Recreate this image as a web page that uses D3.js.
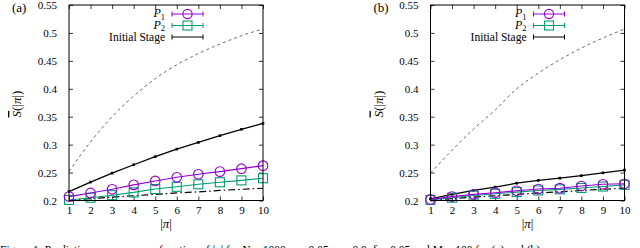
<!DOCTYPE html>
<meta charset="utf-8">
<style type="text/css">
body { margin: 0; background: #fff; }
svg text { font-family: "Liberation Serif", "DejaVu Serif", serif; fill: #000; }
.frame { fill: none; stroke: #000; stroke-width: 1; }
.tick line { stroke: #000; stroke-width: 0.8; }
.tick text { font-size: 11px; }
.domain { display: none; }
.upper { fill: none; stroke: #444; stroke-width: 0.8; stroke-dasharray: 3,3; }
.base { fill: none; stroke: #000; stroke-width: 1.2; stroke-dasharray: 7,3,1.5,3; }
.init { fill: none; stroke: #000; stroke-width: 1.3; }
.p1 { fill: none; stroke: #9400d3; stroke-width: 1.1; }
.p2 { fill: none; stroke: #009e73; stroke-width: 1.1; }
</style>
<svg width="640" height="248"></svg>
<script src="https://cdn.jsdelivr.net/npm/d3@7"></script>
<script>

// |pi| values on the x axis
var sizes = [1, 2, 3, 4, 5, 6, 7, 8, 9, 10];
var yTicks = [0.2, 0.25, 0.3, 0.35, 0.4, 0.45, 0.5, 0.55];

// panel (a)
var p1A    = [0.207, 0.2135, 0.220, 0.228, 0.235, 0.2415, 0.247, 0.2517, 0.257, 0.2624];
var p2A    = [0.201, 0.205, 0.2095, 0.2145, 0.2205, 0.2245, 0.229, 0.2326, 0.236, 0.2398];
var initA  = [0.216, 0.233, 0.249, 0.264, 0.2785, 0.292, 0.304, 0.316, 0.3275, 0.338];
var upperA = [0.252, 0.305, 0.350, 0.387, 0.418, 0.443, 0.463, 0.480, 0.495, 0.507];
var baseA  = [0.200, 0.2035, 0.206, 0.2085, 0.211, 0.2135, 0.2155, 0.218, 0.220, 0.222];

// panel (b)
var p1B    = [0.202, 0.207, 0.211, 0.214, 0.2175, 0.2205, 0.222, 0.226, 0.229, 0.230];
var p2B    = [0.201, 0.205, 0.209, 0.212, 0.215, 0.218, 0.220, 0.2225, 0.225, 0.228];
var initB  = [0.203, 0.211, 0.218, 0.224, 0.231, 0.236, 0.240, 0.2445, 0.2495, 0.2545];
var upperB = [0.249, 0.290, 0.328, 0.362, 0.400, 0.428, 0.452, 0.473, 0.491, 0.507];
var baseB  = [0.200, 0.2035, 0.206, 0.2085, 0.211, 0.2135, 0.2155, 0.218, 0.220, 0.222];

var svg = d3.select("svg");

function drawPanel(left, tag, d){
  var x = d3.scaleLinear().domain([1, 10]).range([left, left + 194]);
  var y = d3.scaleLinear().domain([0.2, 0.55]).range([200.5, 5]);
  var g = svg.append("g");

  // axes, ticks pointing inward on all four sides (gnuplot style)
  g.append("g").attr("transform", "translate(" + left + ",0)")
    .call(d3.axisLeft(y).tickValues(yTicks).tickSize(-4).tickPadding(12)
      .tickFormat(function(v){ return d3.format("")(+v.toFixed(2)); }));
  g.append("g").attr("transform", "translate(" + (left + 194) + ",0)")
    .call(d3.axisRight(y).tickValues(yTicks).tickSize(-4).tickFormat(""));
  g.append("g").attr("transform", "translate(0,200.5)")
    .call(d3.axisBottom(x).tickValues(sizes).tickSize(-4).tickPadding(6).tickFormat(d3.format("d")));
  g.append("g").attr("transform", "translate(0,5)")
    .call(d3.axisTop(x).tickValues(sizes).tickSize(-4).tickFormat(""));

  var line = d3.line().x(function(v, i){ return x(sizes[i]); }).y(function(v){ return y(v); });
  var curve = d3.line().curve(d3.curveMonotoneX)
    .x(function(v, i){ return x(sizes[i]); }).y(function(v){ return y(v); });

  g.append("path").attr("class", "upper").attr("d", curve(d.upper));
  g.append("path").attr("class", "base").attr("d", curve(d.base));
  g.append("path").attr("class", "init").attr("d", line(d.init));
  g.selectAll(".idot").data(d.init).enter().append("rect")
    .attr("x", function(v, i){ return x(sizes[i]) - 1.3; })
    .attr("y", function(v){ return y(v) - 1.3; })
    .attr("width", 2.6).attr("height", 2.6).attr("fill", "#000");

  g.append("path").attr("class", "p2").attr("d", line(d.p2));
  g.selectAll(".sq").data(d.p2).enter().append("rect").attr("class", "p2")
    .attr("x", function(v, i){ return x(sizes[i]) - 4.5; })
    .attr("y", function(v){ return y(v) - 4.5; })
    .attr("width", 9).attr("height", 9);

  g.append("path").attr("class", "p1").attr("d", line(d.p1));
  g.selectAll(".ci").data(d.p1).enter().append("circle").attr("class", "p1")
    .attr("cx", function(v, i){ return x(sizes[i]); })
    .attr("cy", function(v){ return y(v); })
    .attr("r", 4.8);

  g.append("rect").attr("class", "frame")
    .attr("x", left).attr("y", 5).attr("width", 194).attr("height", 195.5);

  // legend
  var lx = left + 96, rows = [14, 25.5, 37];
  var t1 = g.append("text").attr("x", lx).attr("y", rows[0] + 3).attr("text-anchor", "end")
    .style("font-size", "12px");
  t1.append("tspan").style("font-style", "italic").text("P");
  t1.append("tspan").attr("dy", 2.5).style("font-size", "8.5px").text("1");
  var t2 = g.append("text").attr("x", lx).attr("y", rows[1] + 3).attr("text-anchor", "end")
    .style("font-size", "12px");
  t2.append("tspan").style("font-style", "italic").text("P");
  t2.append("tspan").attr("dy", 2.5).style("font-size", "8.5px").text("2");
  g.append("text").attr("x", lx).attr("y", rows[2] + 4).attr("text-anchor", "end")
    .style("font-size", "11.5px").text("Initial Stage");

  var cls = ["p1", "p2", "init"];
  rows.forEach(function(ry, k){
    var x0 = lx + 7, x1 = lx + 38;
    g.append("path").attr("class", cls[k])
      .attr("d", "M" + x0 + "," + ry + "H" + x1 + "M" + x0 + "," + (ry - 2.5) + "V" + (ry + 2.5) +
                 "M" + x1 + "," + (ry - 2.5) + "V" + (ry + 2.5))
      .style("stroke-width", 1);
  });
  g.append("circle").attr("class", "p1").attr("cx", lx + 22.5).attr("cy", rows[0]).attr("r", 4.6);
  g.append("rect").attr("class", "p2").attr("x", lx + 18).attr("y", rows[1] - 4.5)
    .attr("width", 9).attr("height", 9);

  // axis labels
  var yl = g.append("text")
    .attr("transform", "translate(" + (left - 48) + ",104) rotate(-90)")
    .attr("text-anchor", "middle").style("font-size", "13px");
  yl.append("tspan").style("font-style", "italic").style("text-decoration", "overline").text("S");
  yl.append("tspan").text("(|");
  yl.append("tspan").style("font-style", "italic").text("π");
  yl.append("tspan").text("|)");

  var xl = g.append("text").attr("x", x(5.5)).attr("y", 228)
    .attr("text-anchor", "middle").style("font-size", "13px");
  xl.append("tspan").text("|");
  xl.append("tspan").style("font-style", "italic").text("π");
  xl.append("tspan").text("|");

  g.append("text").attr("x", left - 57).attr("y", 12).style("font-size", "13px").text(tag);
}

drawPanel(69, "(a)", {p1: p1A, p2: p2A, init: initA, upper: upperA, base: baseA});
drawPanel(430.5, "(b)", {p1: p1B, p2: p2B, init: initB, upper: upperB, base: baseB});

// caption, cut off by the bottom edge
svg.append("text").attr("x", 0).attr("y", 254).style("font-size", "11.5px")
  .text("Figure 1: Prediction accuracy as a function of |π| for N = 1000, ε = 0.05, ρ = 0.9, δ = 0.05 and M = 100 for (a) and (b).");

</script>
